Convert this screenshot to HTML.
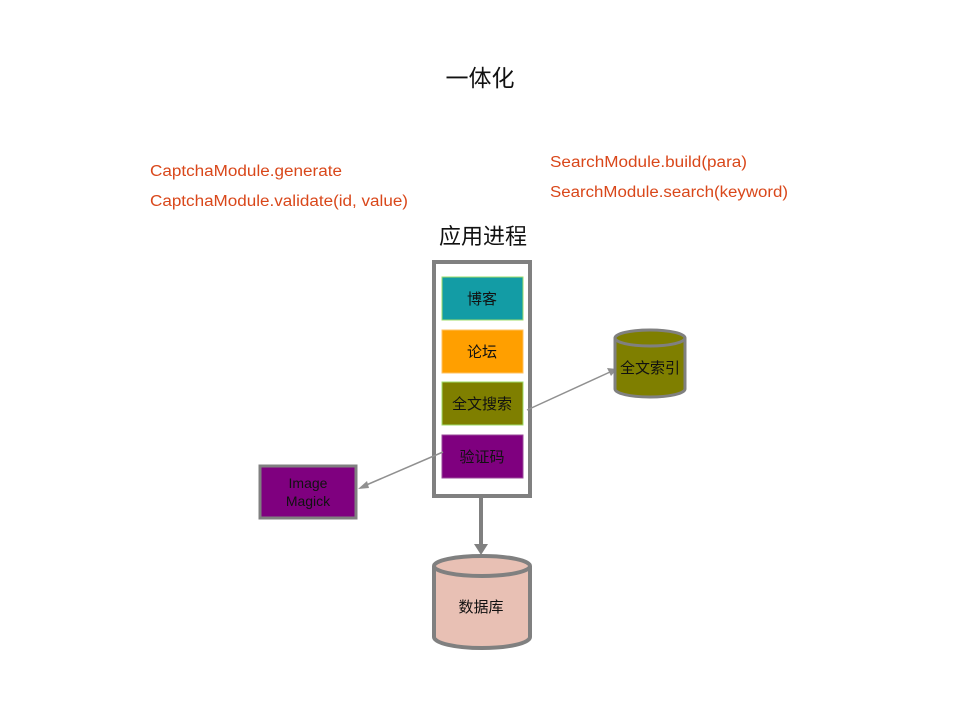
<!DOCTYPE html>
<html><head><meta charset="utf-8"><style>
body{margin:0;background:#fff;}
svg{display:block;font-family:"Liberation Sans","Noto Sans CJK SC",sans-serif;}
</style></head><body>
<svg width="960" height="720" viewBox="0 0 960 720">
<text x="480" y="86" font-size="23" text-anchor="middle" fill="#111">一体化</text>
<g fill="#d9471a" font-size="15.5">
<text x="150" y="176" textLength="192" lengthAdjust="spacingAndGlyphs">CaptchaModule.generate</text>
<text x="150" y="206" textLength="258" lengthAdjust="spacingAndGlyphs">CaptchaModule.validate(id, value)</text>
<text x="550" y="167" textLength="197" lengthAdjust="spacingAndGlyphs">SearchModule.build(para)</text>
<text x="550" y="197" textLength="238" lengthAdjust="spacingAndGlyphs">SearchModule.search(keyword)</text>
</g>
<text x="483" y="244" font-size="22" text-anchor="middle" fill="#111">应用进程</text>
<rect x="434" y="262" width="96" height="234" fill="#fff" stroke="#808080" stroke-width="4"/>
<rect x="442" y="277" width="81" height="43" fill="#139ca5" stroke="#9fdc6a" stroke-width="1"/>
<rect x="442" y="330" width="81" height="43" fill="#ff9f00" stroke="#ffc060" stroke-width="1"/>
<rect x="442" y="382" width="81" height="43" fill="#7f7f00" stroke="#9fdc6a" stroke-width="1"/>
<rect x="442" y="435" width="81" height="43" fill="#7f007f" stroke="#9a4a9a" stroke-width="1"/>
<g font-size="15" text-anchor="middle" fill="#111">
<text x="482" y="304">博客</text>
<text x="482" y="357">论坛</text>
<text x="482" y="409">全文搜索</text>
<text x="482" y="462">验证码</text>
</g>
<rect x="260" y="466" width="96" height="52" fill="#7f007f" stroke="#808080" stroke-width="3"/>
<text x="308" y="488" font-size="14" text-anchor="middle" fill="#111">Image</text>
<text x="308" y="506" font-size="14" text-anchor="middle" fill="#111">Magick</text>
<line x1="443" y1="452" x2="364" y2="486" stroke="#909090" stroke-width="1.5"/>
<polygon points="358,489 367,481 369,488" fill="#909090"/>
<line x1="527" y1="410" x2="610" y2="372" stroke="#909090" stroke-width="1.5"/>
<polygon points="617,369 607,368 611,376" fill="#909090"/>
<path d="M615,338 L615,389 A35,8 0 0 0 685,389 L685,338" fill="#7f7f00" stroke="#808080" stroke-width="3"/>
<ellipse cx="650" cy="338" rx="35" ry="8" fill="#7f7f00" stroke="#808080" stroke-width="3"/>
<text x="650" y="373" font-size="15" text-anchor="middle" fill="#111">全文索引</text>
<line x1="481" y1="497" x2="481" y2="546" stroke="#808080" stroke-width="4"/>
<polygon points="474,544 488,544 481,555" fill="#808080"/>
<path d="M434,566 L434,637 A48,11 0 0 0 530,637 L530,566" fill="#e8c0b4" stroke="#808080" stroke-width="4"/>
<ellipse cx="482" cy="566" rx="48" ry="10" fill="#e8c0b4" stroke="#808080" stroke-width="4"/>
<text x="481" y="612" font-size="15" text-anchor="middle" fill="#111">数据库</text>
</svg>
</body></html>
